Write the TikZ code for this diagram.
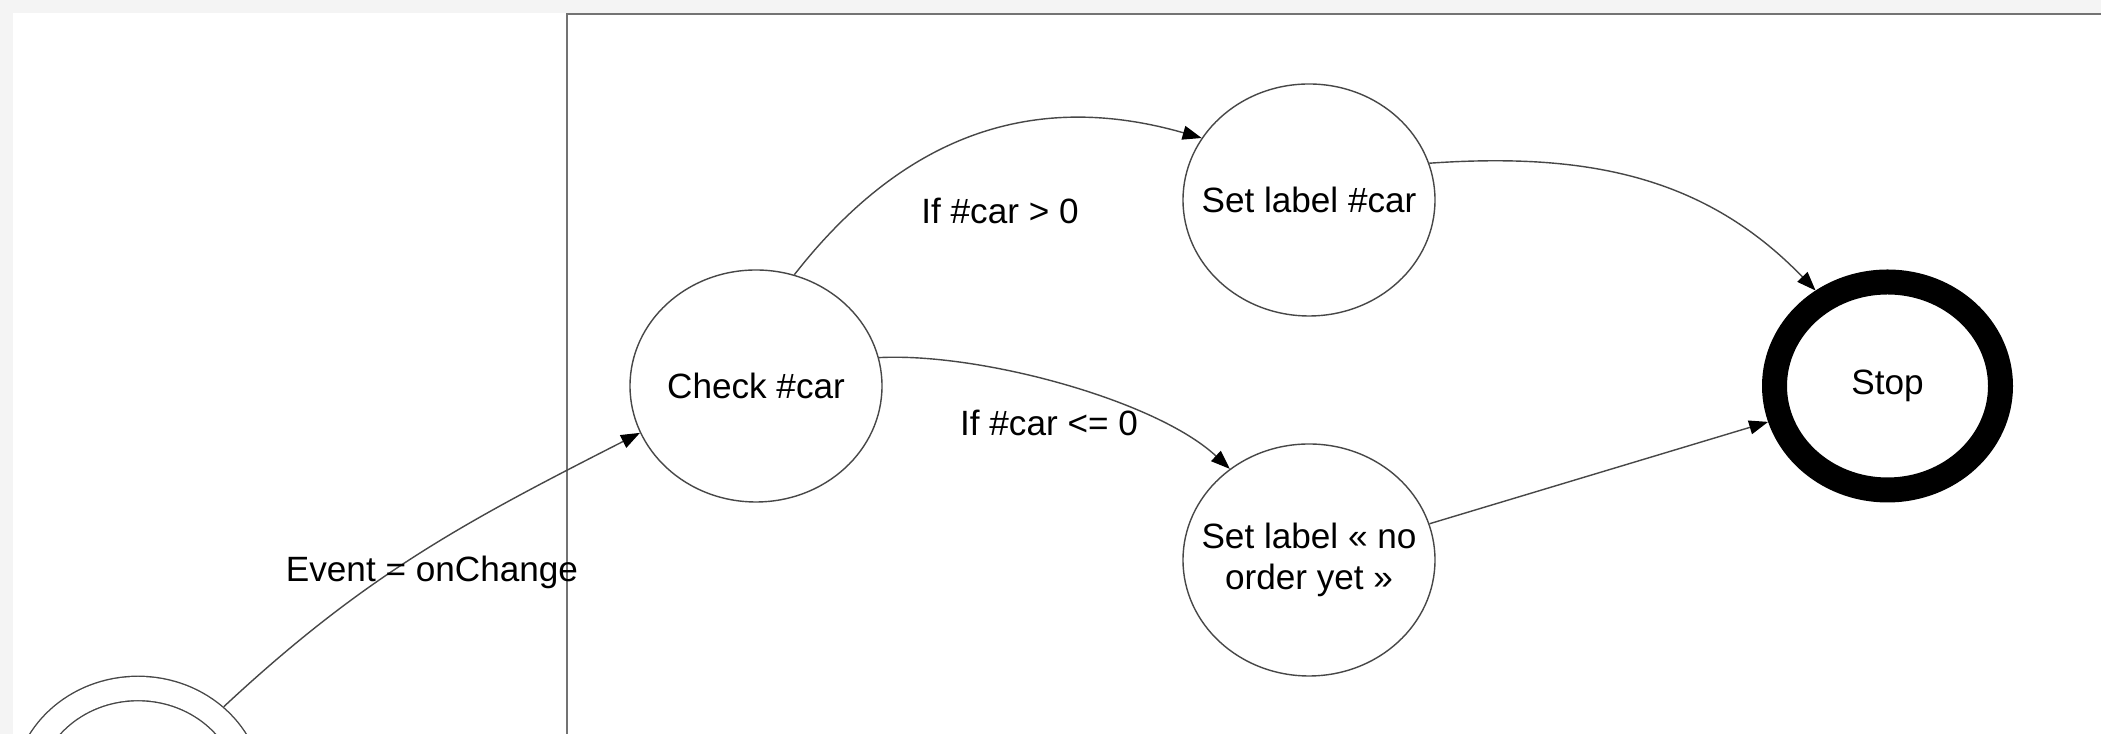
\documentclass[tikz,border=0pt]{standalone}
\usepackage{fontspec}
\setmainfont{Liberation Sans}
\usetikzlibrary{shapes.geometric,arrows.meta,positioning}
\definecolor{linegray}{gray}{0.28}
\definecolor{framegray}{gray}{0.45}
\definecolor{margingray}{HTML}{F4F4F4}
\tikzset
{
    statenode/.style  = {ellipse, draw=linegray, line width=0.4pt, align=center, minimum width=2.52cm, minimum height=2.32cm, inner xsep=-0.4cm, inner ysep=0pt},
    startnode/.style  = {ellipse, draw=linegray, line width=0.4pt, double, double distance=0.23cm, minimum width=2.26cm, minimum height=2.08cm, outer sep=0.13cm},
    stopnode/.style   = {ellipse, draw=black, line width=0.25cm, align=center, minimum width=2.26cm, minimum height=2.08cm, inner xsep=-0.4cm, inner ysep=0pt},
    transition/.style = {draw=linegray, line width=0.4pt, -{Triangle[length=0.19cm, width=0.14cm, color=black, fill=black]}},
    condition/.style  = {anchor=base, inner sep=0pt}
}

\begin{document}
\begin{tikzpicture}[font=\fontsize{10pt}{11.5pt}\selectfont]
\useasboundingbox (0,0) rectangle (21.01,7.34);
\clip (0,0) rectangle (21.01,7.34);
\fill[margingray] (0,0) rectangle (21.01,7.34);
\fill[white] (0.127,-0.1) rectangle (21.2,7.213);
\draw[framegray, line width=0.4pt] (5.67,-0.1) -- (5.67,7.20) -- (21.2,7.20);

\node[startnode] (start) at (1.38,-0.585) {};
\node[statenode] (check) at (7.56,3.48) {Check \#car};
\node[statenode] (setcar) at (13.09,5.34) {Set label \#car};
\node[statenode] (setno) at (13.09,1.74) {Set label « no\\order yet »};
\node[stopnode] (stop) at (18.875,3.48) {Stop};

\draw[transition] (start.45) to[out=43, in=207] (check.202);
\draw[transition] (check.71) to[out=52, in=164, looseness=1.05] (setcar.150);
\draw[transition] (check.13) to[out=3, in=137, looseness=0.7] (setno.131);
\draw[transition] (setcar.17) to[out=4, in=134] (stop.127);
\draw[transition] (setno) -- (stop);

\node[condition] (evtlabel) at (4.32,1.52) {Event = onChange};
\node[condition] (poslabel) at (10.00,5.107) {If \#car > 0};
\node[condition] (neglabel) at (10.49,2.986) {If \#car <= 0};
\end{tikzpicture}
\end{document}
